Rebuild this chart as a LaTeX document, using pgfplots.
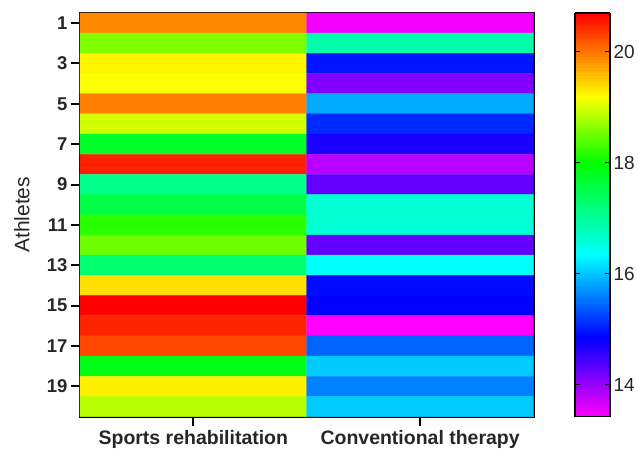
\documentclass[border=0pt]{standalone}
\usepackage{pgfplots}
\pgfplotsset{compat=1.18}
\usepackage{fontspec}
\setmainfont{Liberation Sans}

% athlete, group (0 = sports rehab, 1 = conventional), value
\begin{document}
\begin{tikzpicture}
\begin{axis}[
    scale only axis,
    width=454pt, height=404pt,
    /pgf/number format/assume math mode=true,
    xmin=-0.5, xmax=1.5,
    ymin=0.5, ymax=20.5,
    y dir=reverse,
    axis line style={line width=2.6pt},
    xtick={0,1},
    xticklabels={Sports rehabilitation, Conventional therapy},
    ytick={1,3,...,19},
    tick pos=left,
    tick style={black, line width=2pt},
    tick align=outside,
    major tick length=9pt,
    xticklabel style={font=\fontsize{19.5}{22}\selectfont\bfseries, text=black!85, yshift=-1pt},
    yticklabel style={font=\fontsize{18.5}{21}\selectfont\bfseries, text=black!85},
    ylabel={Athletes},
    ylabel style={font=\fontsize{21}{24}\selectfont, text=black!85, at={(axis description cs:-0.128,0.5)}, anchor=center},
    colormap={prism}{rgb255(0pt)=(255,0,255); rgb255(143pt)=(0,0,255); rgb255(293pt)=(0,255,255);
        rgb255(458pt)=(0,255,0); rgb255(578pt)=(255,255,0); rgb255(728pt)=(255,0,0)},
    point meta min=13.42, point meta max=20.70,
    colorbar sampled={surf, mark=none, shader=flat, samples=150},
    colorbar style={
        width=35pt,
        at={(parent axis.north east)}, anchor=north west, xshift=33pt,
        ytick={14,16,18,20},
        axis line style={line width=1.6pt},
        tick style={black, line width=1.4pt},
        major tick length=5pt,
        tick align=inside,
        yticklabel style={font=\fontsize{19}{22}\selectfont, text=black!85},
        /pgf/number format/assume math mode=true,
    },
]
\addplot[matrix plot*, mesh/cols=2, point meta=explicit] table[meta=c] {
x y c
0 1 19.90
1 1 13.50
0 2 18.60
1 2 16.90
0 3 19.26
1 3 14.97
0 4 19.18
1 4 14.12
0 5 19.95
1 5 15.85
0 6 18.99
1 6 15.09
0 7 17.74
1 7 14.71
0 8 20.51
1 8 13.81
0 9 17.09
1 9 14.29
0 10 17.55
1 10 16.64
0 11 18.19
1 11 16.64
0 12 18.52
1 12 14.29
0 13 17.29
1 13 16.35
0 14 19.38
1 14 14.91
0 15 20.70
1 15 14.85
0 16 20.49
1 16 13.42
0 17 20.29
1 17 15.44
0 18 17.87
1 18 16.03
0 19 19.29
1 19 15.61
0 20 18.85
1 20 16.03
};
\end{axis}
\path (-80pt,-38pt) rectangle (558pt,417pt);
\end{tikzpicture}
\end{document}
